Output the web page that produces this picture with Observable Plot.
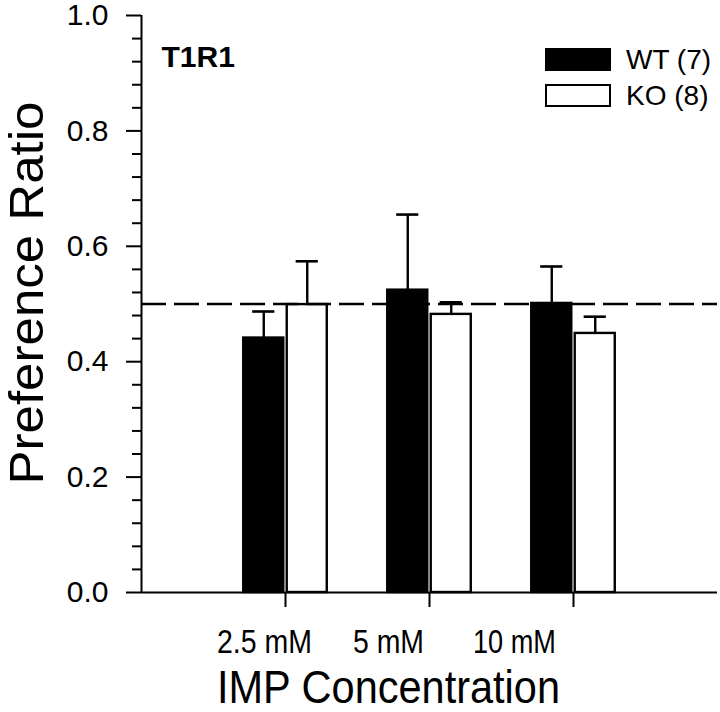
<!DOCTYPE html>
<html>
<head>
<meta charset="utf-8">
<script src="https://cdn.jsdelivr.net/npm/d3@7"></script>
<script src="https://cdn.jsdelivr.net/npm/@observablehq/plot@0.6"></script>
<style>
  html, body { margin: 0; padding: 0; background: #fff; }
  #wrap { position: relative; width: 720px; height: 712px; font-family: "Liberation Sans", Arial, sans-serif; }
  .lg { position: absolute; box-sizing: border-box; }
  .lgtext { position: absolute; font-size: 28px; line-height: 28px; color: #000; white-space: nowrap; }
</style>
</head>
<body>
<div id="wrap"></div>
<script>
// ---- data ----
const concentrations = ["2.5 mM", "5 mM", "10 mM"];
const groups = ["WT (7)", "KO (8)"];
const wtMean = [0.441, 0.524, 0.501];
const wtSem  = [0.046, 0.131, 0.064];
const koMean = [0.499, 0.482, 0.449];
const koSem  = [0.075, 0.021, 0.029];
const yTicks = [0, 0.2, 0.4, 0.6, 0.8, 1.0];
const yMinorTicks = [0.04, 0.08, 0.12, 0.16, 0.24, 0.28, 0.32, 0.36, 0.44, 0.48, 0.52, 0.56,
                     0.64, 0.68, 0.72, 0.76, 0.84, 0.88, 0.92, 0.96];
const chanceLevel = 0.5;
const panelLabel = "T1R1";
const yLabel = "Preference Ratio";
const xLabel = "IMP Concentration";

// ---- build table ----
const rows = [];
concentrations.forEach((c, i) => {
  rows.push({conc: c, pos: i + 1, group: groups[0], mean: wtMean[i], sem: wtSem[i], side: -1});
  rows.push({conc: c, pos: i + 1, group: groups[1], mean: koMean[i], sem: koSem[i], side: 1});
});
const half = 0.139;   // bar half width (in band units)
const gap = 0.151;    // bar centre offset from tick
const cap = 0.077;
const center = d => d.pos + d.side * gap;
const fillOf = d => d.side < 0 ? "black" : "white";
const labelDx = [-21, -41, -59];
const labelWidth = {"2.5 mM": 95, "5 mM": 71, "10 mM": 83, "IMP Concentration": 343, "Preference Ratio": 383};

const plot = Plot.plot({
  width: 720,
  height: 712,
  marginLeft: 141,
  marginRight: 3,
  marginTop: 15,
  marginBottom: 120,
  style: {fontFamily: "'Liberation Sans', Arial, sans-serif", fontSize: "30px", background: "white", color: "black", overflow: "visible"},
  x: {domain: [0, 4], axis: null},
  y: {domain: [0, 1], axis: null},
  marks: [
    Plot.rectY(rows, {
      x1: d => center(d) - half, x2: d => center(d) + half,
      y1: 0, y2: "mean",
      fill: fillOf, stroke: "black", strokeWidth: 2.4
    }),
    Plot.ruleX(rows, {x: center, y1: "mean", y2: d => d.mean + d.sem, stroke: "black", strokeWidth: 2.4}),
    Plot.ruleY(rows, {y: d => d.mean + d.sem, x1: d => center(d) - cap, x2: d => center(d) + cap, stroke: "black", strokeWidth: 2.6}),
    Plot.ruleY([chanceLevel], {stroke: "black", strokeWidth: 2.6, strokeDasharray: "25,8"}),
    Plot.ruleY([0], {stroke: "black", strokeWidth: 2}),
    Plot.ruleX([0], {stroke: "black", strokeWidth: 2}),
    Plot.axisY(yTicks, {tickSize: 15, tickPadding: 18, strokeWidth: 2, fontSize: 30, tickFormat: d3.format(".1f"), label: null}),
    Plot.axisY(yMinorTicks, {tickSize: 9, strokeWidth: 2, tickFormat: () => "", label: null}),
    Plot.axisX([1, 2, 3], {tickSize: 15, strokeWidth: 2, tickFormat: () => "", label: null}),
    ...concentrations.map((c, i) => Plot.text([c], {
      x: i + 1, y: 0, dx: labelDx[i], dy: 50, text: d => d,
      fontSize: 33, lineAnchor: "middle", textAnchor: "middle"
    })),
    Plot.text([xLabel], {
      x: 2, y: 0, dx: -41, dy: 96, text: d => d,
      fontSize: 46, lineAnchor: "middle", textAnchor: "middle"
    }),
    Plot.text([yLabel], {
      frameAnchor: "left", dx: -114, dy: -11, rotate: -90, text: d => d,
      fontSize: 48, lineAnchor: "middle", textAnchor: "middle"
    }),
    Plot.text([panelLabel], {
      frameAnchor: "top-left", dx: 20, dy: 30, text: d => d,
      fontSize: 30, fontWeight: "bold", lineAnchor: "top", textAnchor: "start"
    })
  ]
});

// fit the axis titles and category labels to the reference widths
plot.querySelectorAll("text").forEach(t => {
  const w = labelWidth[t.textContent];
  if (w) { t.setAttribute("textLength", w); t.setAttribute("lengthAdjust", "spacingAndGlyphs"); }
});

const wrap = document.getElementById("wrap");
wrap.appendChild(plot);

// legend
const legend = [
  {label: groups[0], fill: "black", top: 48},
  {label: groups[1], fill: "white", top: 84}
];
legend.forEach(l => {
  const box = document.createElement("div");
  box.className = "lg";
  box.style.left = "545px"; box.style.top = l.top + "px";
  box.style.width = "66px"; box.style.height = "23px";
  box.style.background = l.fill; box.style.border = "2px solid black";
  wrap.appendChild(box);
  const t = document.createElement("div");
  t.className = "lgtext";
  t.style.left = "626px"; t.style.top = (l.top - 2) + "px";
  t.textContent = l.label;
  wrap.appendChild(t);
});
</script>
</body>
</html>
